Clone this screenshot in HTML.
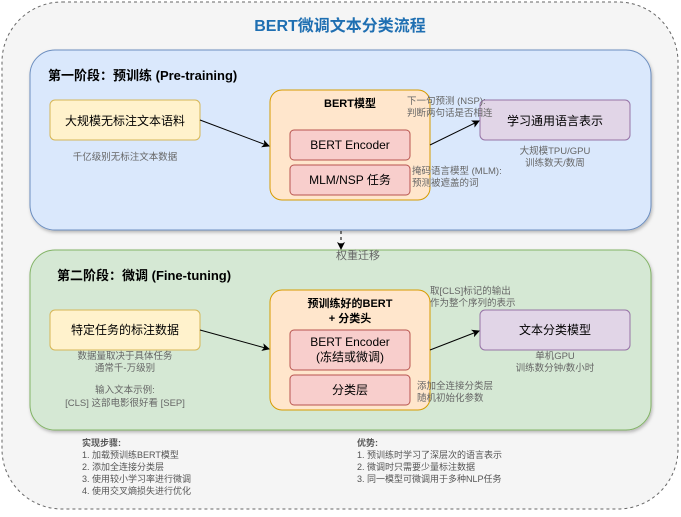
<!DOCTYPE html>
<html><head><meta charset="utf-8"><style>
body{margin:0;width:681px;height:512px;background:#fff;overflow:hidden}
svg text{font-family:"Liberation Sans","Noto Sans CJK SC",sans-serif}
</style></head><body>
<svg width="681" height="512" viewBox="0 0 681 512" xmlns="http://www.w3.org/2000/svg">
<defs>
<marker id="a" markerWidth="8" markerHeight="8" refX="7" refY="4" orient="auto" markerUnits="userSpaceOnUse"><path d="M0,0 L8,4 L0,8 L2,4 z" fill="#000"/></marker>
<filter id="s" x="-5%" y="-5%" width="110%" height="115%"><feDropShadow dx="1" dy="2" stdDeviation="1.5" flood-opacity="0.25"/></filter>
</defs>
<rect x="2" y="2" width="676" height="507" rx="60" fill="#f5f5f5" stroke="#666" stroke-dasharray="3,3"/>
<text x="340" y="31" text-anchor="middle" font-size="16" font-weight="bold" fill="#1f6fb2">BERT微调文本分类流程</text>

<rect x="30" y="50" width="621" height="180" rx="25" fill="#dae8fc" stroke="#6c8ebf" filter="url(#s)"/>
<text x="48" y="80" font-size="13" font-weight="bold">第一阶段：预训练 (Pre-training)</text>
<rect x="50" y="100" width="150" height="40" rx="5" fill="#fff2cc" stroke="#d6b656"/>
<text x="125" y="125" text-anchor="middle" font-size="12">大规模无标注文本语料</text>
<text x="125" y="160" text-anchor="middle" font-size="9.5" fill="#666">千亿级别无标注文本数据</text>
<rect x="270" y="90" width="160" height="110" rx="12" fill="#ffe6cc" stroke="#d79b00"/>
<text x="350" y="107" text-anchor="middle" font-size="11" font-weight="bold">BERT模型</text>
<rect x="290" y="130" width="120" height="30" rx="4" fill="#f8cecc" stroke="#b85450"/>
<text x="350" y="149" text-anchor="middle" font-size="12">BERT Encoder</text>
<rect x="290" y="165" width="120" height="30" rx="4" fill="#f8cecc" stroke="#b85450"/>
<text x="350" y="184" text-anchor="middle" font-size="12">MLM/NSP 任务</text>
<line x1="200" y1="120" x2="269" y2="146" stroke="#000" marker-end="url(#a)"/>
<rect x="480" y="100" width="150" height="40" rx="5" fill="#e1d5e7" stroke="#9673a6"/>
<text x="555" y="125" text-anchor="middle" font-size="12">学习通用语言表示</text>
<text x="407" y="104" font-size="9.5" fill="#666">下一句预测 (NSP):</text>
<text x="407" y="116" font-size="9.5" fill="#666">判断两句话是否相连</text>
<text x="412" y="174" font-size="9.5" fill="#666">掩码语言模型 (MLM):</text>
<text x="412" y="186" font-size="9.5" fill="#666">预测被遮盖的词</text>
<line x1="430" y1="145" x2="479" y2="121" stroke="#000" marker-end="url(#a)"/>
<text x="555" y="154" text-anchor="middle" font-size="9.5" fill="#666">大规模TPU/GPU</text>
<text x="555" y="166" text-anchor="middle" font-size="9.5" fill="#666">训练数天/数周</text>

<rect x="30" y="250" width="621" height="180" rx="25" fill="#d5e8d4" stroke="#82b366" filter="url(#s)"/>
<line x1="341" y1="231" x2="341" y2="249" stroke="#000" stroke-dasharray="3,3" marker-end="url(#a)"/>
<text x="336" y="259" font-size="11" fill="#666">权重迁移</text>
<text x="57" y="280" font-size="13" font-weight="bold">第二阶段：微调 (Fine-tuning)</text>
<rect x="50" y="310" width="150" height="40" rx="5" fill="#fff2cc" stroke="#d6b656"/>
<text x="125" y="334" text-anchor="middle" font-size="12">特定任务的标注数据</text>
<text x="125" y="359" text-anchor="middle" font-size="9.5" fill="#666">数据量取决于具体任务</text>
<text x="125" y="371" text-anchor="middle" font-size="9.5" fill="#666">通常千-万级别</text>
<text x="125" y="393" text-anchor="middle" font-size="9.5" fill="#666">输入文本示例:</text>
<text x="125" y="406" text-anchor="middle" font-size="9.5" fill="#666">[CLS] 这部电影很好看 [SEP]</text>
<rect x="270" y="290" width="160" height="120" rx="12" fill="#ffe6cc" stroke="#d79b00"/>
<text x="350" y="307" text-anchor="middle" font-size="11" font-weight="bold">预训练好的BERT</text>
<text x="350" y="322" text-anchor="middle" font-size="11" font-weight="bold">+ 分类头</text>
<rect x="290" y="330" width="120" height="40" rx="4" fill="#f8cecc" stroke="#b85450"/>
<text x="350" y="346" text-anchor="middle" font-size="12">BERT Encoder</text>
<text x="350" y="361" text-anchor="middle" font-size="12">(冻结或微调)</text>
<rect x="290" y="375" width="120" height="30" rx="4" fill="#f8cecc" stroke="#b85450"/>
<text x="350" y="394" text-anchor="middle" font-size="12">分类层</text>
<line x1="200" y1="330" x2="269" y2="349" stroke="#000" marker-end="url(#a)"/>
<text x="430" y="294" font-size="9.5" fill="#666">取[CLS]标记的输出</text>
<text x="430" y="306" font-size="9.5" fill="#666">作为整个序列的表示</text>
<rect x="480" y="310" width="150" height="40" rx="5" fill="#e1d5e7" stroke="#9673a6"/>
<text x="555" y="334" text-anchor="middle" font-size="12">文本分类模型</text>
<line x1="430" y1="350" x2="479" y2="331" stroke="#000" marker-end="url(#a)"/>
<text x="555" y="359" text-anchor="middle" font-size="9.5" fill="#666">单机GPU</text>
<text x="555" y="371" text-anchor="middle" font-size="9.5" fill="#666">训练数分钟/数小时</text>
<text x="417" y="389" font-size="9.5" fill="#666">添加全连接分类层</text>
<text x="417" y="401" font-size="9.5" fill="#666">随机初始化参数</text>

<g font-size="9" fill="#555">
<text x="82" y="446" font-weight="bold">实现步骤:</text>
<text x="82" y="458">1. 加载预训练BERT模型</text>
<text x="82" y="470">2. 添加全连接分类层</text>
<text x="82" y="482">3. 使用较小学习率进行微调</text>
<text x="82" y="494">4. 使用交叉熵损失进行优化</text>
<text x="357" y="446" font-weight="bold">优势:</text>
<text x="357" y="458">1. 预训练时学习了深层次的语言表示</text>
<text x="357" y="470">2. 微调时只需要少量标注数据</text>
<text x="357" y="482">3. 同一模型可微调用于多种NLP任务</text>
</g>
</svg>
</body></html>
